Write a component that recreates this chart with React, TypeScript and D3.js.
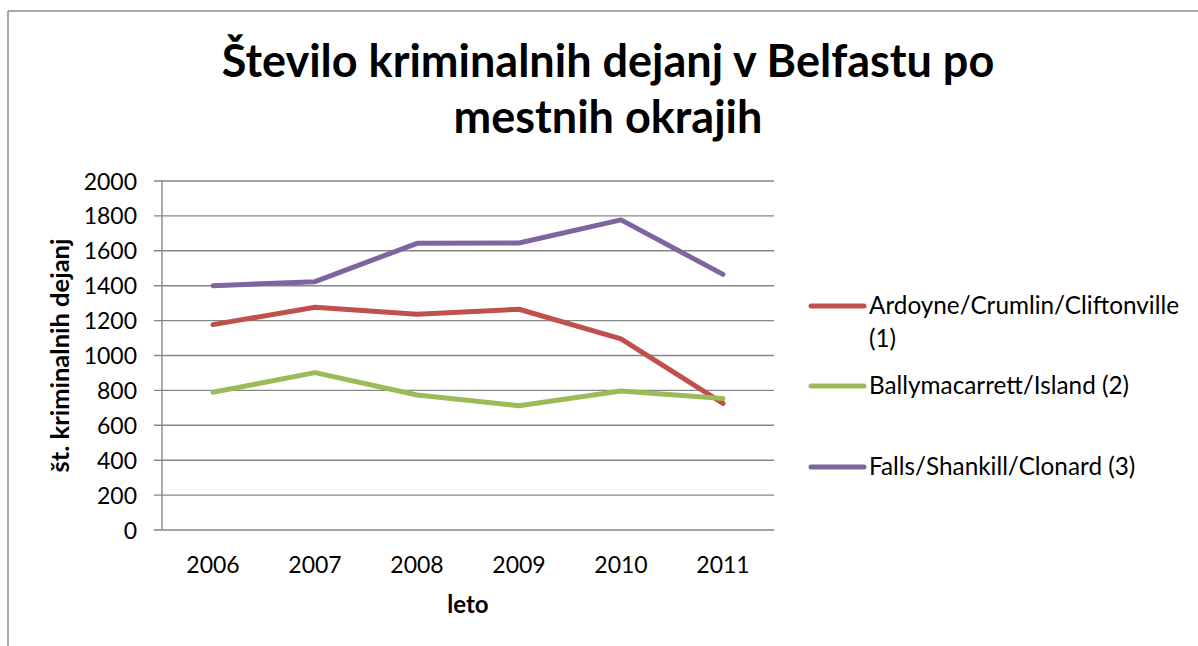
import React from "react";
import * as d3 from "d3";

const years = ["2006", "2007", "2008", "2009", "2010", "2011"];
const yTicks = [0, 200, 400, 600, 800, 1000, 1200, 1400, 1600, 1800, 2000];
const seriesNames = [
  "Ardoyne/Crumlin/Cliftonville (1)",
  "Ballymacarrett/Island (2)",
  "Falls/Shankill/Clonard (3)",
];
const ardoyne = [1177, 1276, 1236, 1265, 1095, 726];
const ballymacarrett = [789, 902, 774, 712, 797, 753];
const falls = [1400, 1423, 1643, 1645, 1777, 1465];
const colors = ["#C0504D", "#9BBB59", "#8064A2"];

const FONT = "Lato, 'Open Sans', sans-serif";

export default function App() {
  const W = 1198, H = 646;
  const left = 162, right = 774, top = 181, bottom = 530;
  const x = d3.scaleBand<string>().domain(years).range([left, right]);
  const y = d3.scaleLinear().domain([0, 2000]).range([bottom, top]);
  const line = d3
    .line<number>()
    .x((_, i) => (x(years[i]) as number) + x.bandwidth() / 2)
    .y((d) => y(d));
  const series = [ardoyne, ballymacarrett, falls];

  const legendItems = [
    { lineY: 306, lines: ["Ardoyne/Crumlin/Cliftonville", "(1)"], base: 314 },
    { lineY: 386, lines: ["Ballymacarrett/Island (2)"], base: 394 },
    { lineY: 467, lines: ["Falls/Shankill/Clonard (3)"], base: 475 },
  ];

  return (
    <svg
      width={W}
      height={H}
      style={{ position: "absolute", left: 0, top: 0, background: "#fff" }}
      fontFamily={FONT}
    >
      <rect x={0} y={0} width={W} height={H} fill="#fff" />
      <line x1={8} y1={11} x2={W} y2={11} stroke="#8c8c8c" strokeWidth={1.5} />
      <line x1={8} y1={11} x2={8} y2={H} stroke="#8c8c8c" strokeWidth={1.5} />

      <text x={608} y={77} textAnchor="middle" fontSize={45} fontWeight={700} fill="#000">
        Število kriminalnih dejanj v Belfastu po
      </text>
      <text x={608} y={133} textAnchor="middle" fontSize={45} fontWeight={700} fill="#000">
        mestnih okrajih
      </text>

      {yTicks.map((t) => (
        <g key={t}>
          <line x1={154} x2={right} y1={y(t)} y2={y(t)} stroke="#868686" strokeWidth={1.4} />
          <text x={137} y={y(t) + 8.5} textAnchor="end" fontSize={23} fill="#000">
            {t}
          </text>
        </g>
      ))}
      <line x1={left} x2={left} y1={top} y2={bottom} stroke="#868686" strokeWidth={1.4} />

      {years.map((yr) => (
        <text
          key={yr}
          x={(x(yr) as number) + x.bandwidth() / 2}
          y={573}
          textAnchor="middle"
          fontSize={23}
          fill="#000"
        >
          {yr}
        </text>
      ))}
      <text x={(left + right) / 2} y={613} textAnchor="middle" fontSize={24} fontWeight={700}>
        leto
      </text>
      <text
        transform={`translate(69, ${(top + bottom) / 2}) rotate(-90)`}
        textAnchor="middle"
        fontSize={25.5}
        fontWeight={700}
      >
        št. kriminalnih dejanj
      </text>

      {series.map((s, i) => (
        <path
          key={seriesNames[i]}
          d={line(s) as string}
          fill="none"
          stroke={colors[i]}
          strokeWidth={5}
          strokeLinecap="round"
          strokeLinejoin="round"
        />
      ))}

      {legendItems.map((it, i) => (
        <g key={i}>
          <line
            x1={811}
            x2={864}
            y1={it.lineY}
            y2={it.lineY}
            stroke={colors[i]}
            strokeWidth={5}
            strokeLinecap="round"
          />
          {it.lines.map((l, j) => (
            <text key={j} x={869} y={it.base + j * 33} fontSize={24.3} fill="#000">
              {l}
            </text>
          ))}
        </g>
      ))}
    </svg>
  );
}
